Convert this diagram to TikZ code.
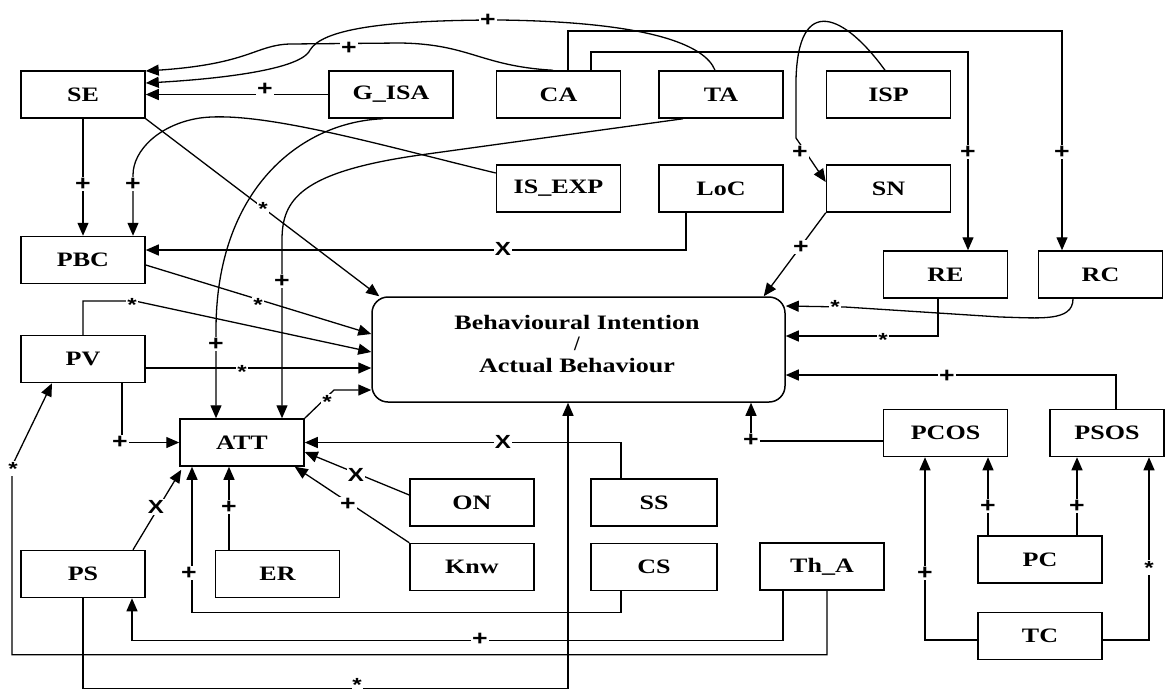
\documentclass[tikz,border=0pt]{standalone}
\usepackage{fontspec}
\setmainfont{Liberation Serif}
\newfontfamily\lblfam{Liberation Sans}
\usetikzlibrary{arrows.meta}
\newcommand{\stretchtxt}[1]{\scalebox{1.27}[1]{#1}}
\begin{document}
\begin{tikzpicture}[x=1pt,y=-1pt,
  box/.style={draw, line width=1.5pt, minimum width=124pt, minimum height=47pt, inner sep=0pt, font=\bfseries\fontsize{20.5}{22}\selectfont},
  conn/.style={line width=1.3pt},
  arr/.style={conn, -{Triangle[length=13pt,width=11pt]}},
  lbl/.style={fill=white, inner sep=1.2pt, font=\lblfam\bfseries\fontsize{21}{21}\selectfont},
  xl/.style={lbl, font=\lblfam\bfseries\fontsize{19}{19}\selectfont},
  ast/.style={lbl, yshift=-3.5pt, font=\lblfam\bfseries\fontsize{19}{19}\selectfont}]
\useasboundingbox (0,0) rectangle (1166,697);

% ---------- boxes ----------
\node[box] (SE) at (83,94.5) {\stretchtxt{SE}};
\node[box] (GISA) at (391,94.5) {\stretchtxt{G\_ISA}};
\node[box] (CA) at (558.5,94.5) {\stretchtxt{CA}};
\node[box] (TA) at (721,94.5) {\stretchtxt{TA}};
\node[box] (ISP) at (888.5,94.5) {\stretchtxt{ISP}};
\node[box] (ISEXP) at (558.5,188.5) {\stretchtxt{IS\_EXP}};
\node[box] (LoC) at (721,188.5) {\stretchtxt{LoC}};
\node[box] (SN) at (888.5,188.5) {\stretchtxt{SN}};
\node[box] (PBC) at (83,260) {\stretchtxt{PBC}};
\node[box] (RE) at (945.5,274.5) {\stretchtxt{RE}};
\node[box] (RC) at (1100.5,274.5) {\stretchtxt{RC}};
\node[box] (PV) at (83,359) {\stretchtxt{PV}};
\node[draw, line width=1.5pt, rounded corners=16pt, minimum width=413pt, minimum height=105pt] (BI) at (578.5,349.5) {};
\node[align=center, font=\bfseries\fontsize{20.5}{21.5}\selectfont] (BItxt) at (577,344) {\stretchtxt{Behavioural Intention}\\ /\\ \stretchtxt{Actual Behaviour}};
\node[box] (ATT) at (242,442.5) {\stretchtxt{ATT}};
\node[box] (PCOS) at (945.5,433) {\stretchtxt{PCOS}};
\node[box, minimum width=114pt] (PSOS) at (1107,433) {\stretchtxt{PSOS}};
\node[box] (ON) at (472,502.5) {\stretchtxt{ON}};
\node[box, minimum width=126pt] (SS) at (654,502.5) {\stretchtxt{SS}};
\node[box] (PS) at (83,574) {\stretchtxt{PS}};
\node[box] (ER) at (277.5,574) {\stretchtxt{ER}};
\node[box] (Knw) at (472,567) {\stretchtxt{Knw}};
\node[box, minimum width=126pt] (CS) at (654,567) {\stretchtxt{CS}};
\node[box] (ThA) at (822,566.5) {\stretchtxt{Th\_A}};
\node[box] (PC) at (1040,559.5) {\stretchtxt{PC}};
\node[box] (TC) at (1040,636) {\stretchtxt{TC}};

% ---------- helper coordinates ----------
\coordinate (pv1) at ([yshift=-9pt]PV.east);
\coordinate (b390) at ([yshift=-40.5pt]BI.west);
\coordinate (erx) at ([xshift=-48.5pt]ER.north);

% ---------- connectors ----------
\draw[arr] (GISA.west) -- (SE.east);
\draw[arr] ([xshift=-5.5pt]CA.north) .. controls (480,66) and (470,44) .. (400,43) -- (290,44) .. controls (255,45) and (250,64) .. ([yshift=23.5pt]SE.east);
\draw[arr] ([xshift=-6pt]TA.north) .. controls (705,45) and (650,22) .. (500,20) .. controls (380,20) and (322,30) .. (310,50) .. controls (300,72) and (200,80) .. ([yshift=11.5pt]SE.east);
\draw[arr] (SE.south) -- (PBC.north);
\draw[arr] ([yshift=15.5pt]ISEXP.west) .. controls (380,145) and (260,110) .. (200,118) .. controls (160,124) and (133,150) .. (133,175) -- ([xshift=50pt]PBC.north);
\draw[arr] (SE.south east) -- ([xshift=8pt]BI.north west);
\draw[arr] ([xshift=-8pt]GISA.south) .. controls (300,122) and (216,190) .. (216,330) -- ([xshift=-26pt]ATT.north);
\draw[arr] ([xshift=-38pt]TA.south) -- (420,155) .. controls (300,172) and (282,200) .. (282,240) -- ([xshift=40pt]ATT.north);
\draw[arr] ([xshift=-3.5pt]ISP.north) .. controls (845,15) and (798,-8) .. (796,80) -- (796,138) -- ([yshift=6.5pt]SN.west);
\draw[arr] ([xshift=32.5pt]CA.north) |- (968,52) -- ([xshift=22.5pt]RE.north);
\draw[arr] ([xshift=9.5pt]CA.north) |- (1062,31) -- ([xshift=-38.5pt]RC.north);
\draw[arr] (SN.south west) -- ([xshift=-22pt]BI.north east);
\draw[arr] ([xshift=-35pt]LoC.south) |- ([yshift=10pt]PBC.east);
\draw[arr] ([yshift=-5pt]PBC.east) -- ([yshift=15.5pt]BI.west);
\draw[arr] (PV.north) |- (135,301) -- ([yshift=-2.5pt]BI.west);
\draw[arr] (pv1) -- (pv1 -| BI.west);
\draw[arr] ([xshift=39pt]PV.south) |- (ATT.west);
\draw[arr] (ATT.north east) -- (334,390) -- (b390);
\draw[arr] ([xshift=-33pt]SS.north) |- (ATT.east);
\draw[arr] ([yshift=7.5pt]ON.west) -- ([yshift=-9.5pt]ATT.east);
\draw[arr] (Knw.north west) -- ([xshift=-10pt]ATT.south east);
\draw[arr] (erx) -- (erx |- ATT.south);
\draw[arr] ([xshift=50pt]PS.north) -- ([xshift=2pt,yshift=-3pt]ATT.south west);
\draw[arr] ([xshift=-33pt]CS.south) -- ++(0,21) -| ([xshift=-50pt]ATT.south);
\draw[arr] (PS.south) -- ++(0,90) -| ([xshift=-10.5pt]BI.south);
\draw[arr] ([xshift=-39pt]ThA.south) -- ++(0,50) -| ([xshift=49pt]PS.south);
\draw[arr] ([xshift=5pt]ThA.south) -- ++(0,64) -| (12,466) -- ([xshift=-31pt]PV.south);
\draw[arr] ([yshift=-8pt]PCOS.west) -| ([xshift=172.5pt]BI.south);
\draw[arr] ([xshift=9pt]PSOS.north) |- ([yshift=-25.5pt]BI.east);
\draw[arr] ([xshift=-7.5pt]RE.south) |- ([yshift=13.5pt]BI.east);
\draw[arr] ([xshift=-27.5pt]RC.south) .. controls (1073,322) and (1040,318) .. (1000,317) -- (845,307) -- ([yshift=43.5pt]BI.east);
\draw[arr] ([xshift=-52pt]PC.north) -- ([xshift=42.5pt]PCOS.south);
\draw[arr] ([xshift=37pt]PC.north) -- ([xshift=-30pt]PSOS.south);
\draw[arr] ([yshift=-4pt]TC.west) -| ([xshift=-20.5pt]PCOS.south);
\draw[arr] ([yshift=-4pt]TC.east) -| ([xshift=42pt]PSOS.south);

% ---------- labels ----------
\node[lbl] at (265,89) {\stretchtxt{+}};
\node[lbl] at (349,48) {\stretchtxt{+}};
\node[lbl] at (488,20) {\stretchtxt{+}};
\node[lbl] at (83,184) {\stretchtxt{+}};
\node[lbl] at (133,184) {\stretchtxt{+}};
\node[ast] at (263,205) {\stretchtxt{*}};
\node[lbl] at (216,344) {\stretchtxt{+}};
\node[lbl] at (282,281) {\stretchtxt{+}};
\node[lbl] at (800,152) {\stretchtxt{+}};
\node[lbl] at (968,152) {\stretchtxt{+}};
\node[lbl] at (1062,152) {\stretchtxt{+}};
\node[lbl] at (801,247) {\stretchtxt{+}};
\node[xl] at (503,249) {\stretchtxt{X}};
\node[ast] at (258,301) {\stretchtxt{*}};
\node[ast] at (132,301) {\stretchtxt{*}};
\node[ast] at (242,368) {\stretchtxt{*}};
\node[lbl] at (120,442) {\stretchtxt{+}};
\node[ast] at (327,398) {\stretchtxt{*}};
\node[xl] at (503,442) {\stretchtxt{X}};
\node[xl] at (356,475) {\stretchtxt{X}};
\node[lbl] at (348,504) {\stretchtxt{+}};
\node[lbl] at (229,507) {\stretchtxt{+}};
\node[xl] at (156,507) {\stretchtxt{X}};
\node[lbl] at (189,573) {\stretchtxt{+}};
\node[lbl, inner sep=0.8pt, font=\lblfam\bfseries\fontsize{19}{19}\selectfont] at (357,685) {\stretchtxt{*}};
\node[lbl] at (480,639) {\stretchtxt{+}};
\node[ast] at (13,465) {\stretchtxt{*}};
\node[lbl] at (751,440) {\stretchtxt{+}};
\node[lbl] at (947,376) {\stretchtxt{+}};
\node[ast] at (883,336) {\stretchtxt{*}};
\node[ast] at (835,303) {\stretchtxt{*}};
\node[lbl] at (988,506) {\stretchtxt{+}};
\node[lbl] at (1077,506) {\stretchtxt{+}};
\node[lbl] at (925,573) {\stretchtxt{+}};
\node[ast] at (1149,564) {\stretchtxt{*}};
\end{tikzpicture}
\end{document}
